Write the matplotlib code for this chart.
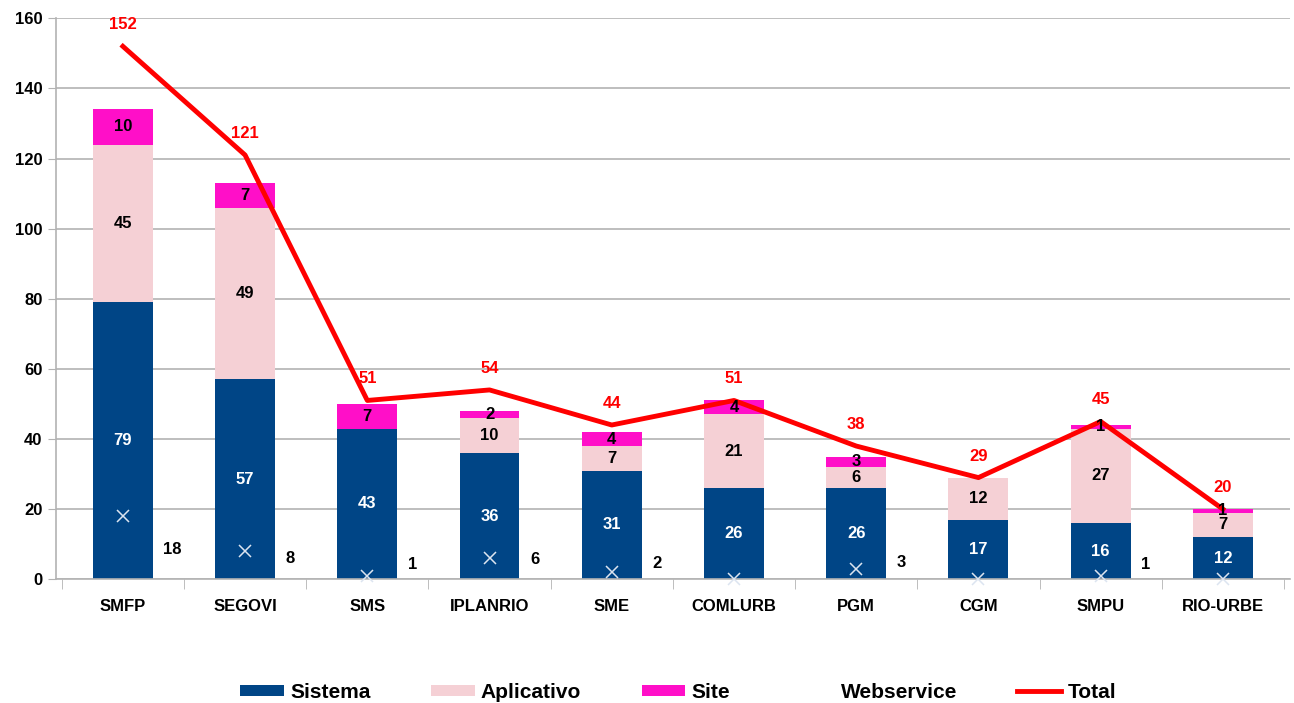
import numpy as np
import matplotlib.pyplot as plt
from matplotlib.lines import Line2D

plt.rcParams['font.family'] = ['Liberation Sans', 'DejaVu Sans']
plt.rcParams['font.weight'] = 'bold'

# data
categories = ['SMFP', 'SEGOVI', 'SMS', 'IPLANRIO', 'SME', 'COMLURB', 'PGM', 'CGM', 'SMPU', 'RIO-URBE']
sistema = [79, 57, 43, 36, 31, 26, 26, 17, 16, 12]
aplicativo = [45, 49, 0, 10, 7, 21, 6, 12, 27, 7]
site = [10, 7, 7, 2, 4, 4, 3, 0, 1, 1]
webservice = [18, 8, 1, 6, 2, 0, 3, 0, 1, 0]
total = [152, 121, 51, 54, 44, 51, 38, 29, 45, 20]

c_sis = '#004586'
c_app = '#f5d0d5'
c_site = '#ff0fc8'

fig = plt.figure(figsize=(12.94, 7.03), dpi=100)
ax = fig.add_axes([0.043, 0.176, 0.954, 0.798])

x = np.arange(len(categories))
w = 0.49
sis = np.array(sistema)
app = np.array(aplicativo)
st = np.array(site)

b1 = ax.bar(x, sis, w, color=c_sis, label='Sistema', zorder=2)
b2 = ax.bar(x, app, w, bottom=sis, color=c_app, label='Aplicativo', zorder=2)
b3 = ax.bar(x, st, w, bottom=sis + app, color=c_site, label='Site', zorder=2)
ax.plot(x, webservice, linestyle='none', marker='x', color='#dce4f0', markersize=9,
        markeredgewidth=1.1, zorder=3, clip_on=False)
l_tot, = ax.plot(x, total, color='#ff0000', lw=3.5, label='Total', zorder=4)
l_web = Line2D([], [], linestyle='none', marker='x', color='white', label='Webservice')

fs = 12
# segment labels
for i in range(len(x)):
    ax.text(x[i], sis[i] / 2, str(sis[i]), color='white', ha='center', va='center', fontsize=fs, zorder=5)
    if app[i] > 0:
        ax.text(x[i], sis[i] + app[i] / 2, str(app[i]), color='black', ha='center', va='center', fontsize=fs, zorder=5)
    if st[i] > 0:
        ax.text(x[i], sis[i] + app[i] + st[i] / 2, str(st[i]), color='black', ha='center', va='center', fontsize=fs, zorder=5)
    if webservice[i] > 0:
        ax.text(x[i] + 0.33, 4 + 0.25 * webservice[i], str(webservice[i]), color='black',
                ha='left', va='center', fontsize=fs, zorder=5)
    ax.text(x[i], total[i] + 4, str(total[i]), color='#ff0000', ha='center', va='bottom', fontsize=fs, zorder=5)

ax.set_xlim(-0.55, len(x) - 0.45)
ax.set_ylim(0, 160)
ax.set_yticks(range(0, 161, 20))
ax.yaxis.grid(True, color='#b3b3b3', lw=1.2, zorder=0)
ax.set_axisbelow(True)
ax.tick_params(axis='y', labelsize=12, length=6, color='#b3b3b3', direction='out')
ax.set_xticks(x)
ax.set_xticklabels(categories, fontsize=12)
ax.tick_params(axis='x', length=0, pad=14)
ax.set_xticks(np.arange(-0.5, len(x), 1), minor=True)
ax.tick_params(axis='x', which='minor', length=7, color='#b3b3b3')
for s in ['top', 'right']:
    ax.spines[s].set_visible(False)
ax.spines['left'].set_color('#b3b3b3')
ax.spines['bottom'].set_color('#b3b3b3')
ax.spines['left'].set_linewidth(1.2)
ax.spines['bottom'].set_linewidth(1.2)

fig.legend(handles=[b1, b2, b3, l_web, l_tot], loc='center', bbox_to_anchor=(0.524, 0.015), ncol=5,
           frameon=False, fontsize=15, columnspacing=2.9, handlelength=2.1, handletextpad=0.3,
           handleheight=0.5)

fig.savefig('out.png', dpi=100)
